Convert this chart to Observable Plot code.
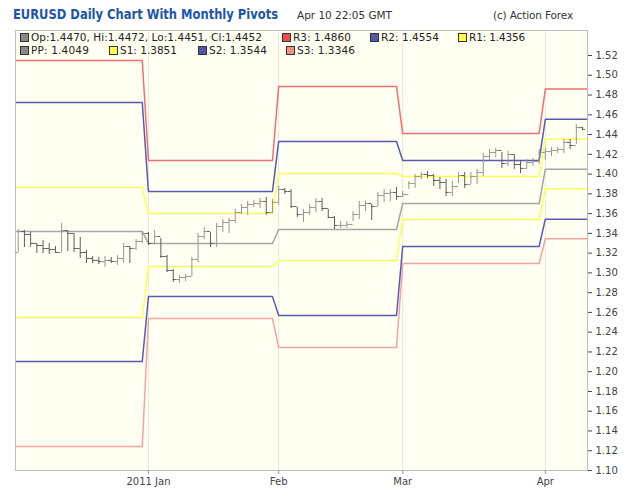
<!DOCTYPE html>
<html><head><meta charset="utf-8">
<script src="https://cdn.jsdelivr.net/npm/d3@7"></script>
<script src="https://cdn.jsdelivr.net/npm/@observablehq/plot@0.6"></script>
<style>
body{margin:0;background:#fff;}
#wrap{position:relative;width:625px;height:499px;font-family:"DejaVu Sans",Verdana,sans-serif;overflow:hidden;}
#wrap svg{position:absolute;left:0;top:0;}
.t{position:absolute;white-space:nowrap;line-height:1;}
.sq{position:absolute;width:7px;height:7px;border:1px solid #333;}
</style></head><body><div id="wrap"></div>
<script>
// ---- data ----
const monthNames = ["Dec","Jan","Feb","Mar","Apr"];
const monthBars = [21,21,20,23,7];
const R3 = [1.5150,1.4138,1.4887,1.4411,1.4860];
const R2 = [1.4725,1.3824,1.4330,1.4138,1.4554];
const R1 = [1.3864,1.3601,1.4006,1.3976,1.4356];
const PP = [1.3420,1.3298,1.3439,1.3702,1.4049];
const S1 = [1.2549,1.3065,1.3126,1.3540,1.3851];
const S2 = [1.2103,1.2761,1.2569,1.3267,1.3544];
const S3 = [1.1243,1.2538,1.2245,1.3095,1.3346];
const opens = [1.3206,1.3419,1.3389,1.3298,1.3277,1.3247,1.3237,1.3206,1.3429,1.3399,1.3247,1.3206,1.3146,1.3126,1.3115,1.3126,1.3115,1.3146,1.3267,1.3247,1.3318,
1.3399,1.3298,1.3368,1.3166,1.3024,1.2933,1.2953,1.2964,1.3136,1.3368,1.3419,1.3298,1.3470,1.3510,1.3530,1.3611,1.3662,1.3692,1.3702,1.3723,1.3611,
1.3713,1.3844,1.3824,1.3672,1.3591,1.3611,1.3662,1.3723,1.3652,1.3561,1.3480,1.3480,1.3490,1.3591,1.3682,1.3702,1.3672,1.3783,1.3804,1.3814,
1.3773,1.3794,1.3905,1.3976,1.3996,1.3986,1.3935,1.3915,1.3814,1.3874,1.3986,1.3895,1.3976,1.4016,1.4178,1.4219,1.4239,1.4107,1.4198,1.4097,1.4057,1.4117,1.4128,
1.4219,1.4229,1.4239,1.4249,1.4320,1.4289,1.4470];
const highs = [1.3439,1.3429,1.3409,1.3298,1.3328,1.3298,1.3267,1.3500,1.3429,1.3399,1.3358,1.3227,1.3166,1.3156,1.3166,1.3156,1.3176,1.3298,1.3267,1.3338,1.3419,
1.3409,1.3429,1.3348,1.3176,1.3034,1.2974,1.2984,1.3156,1.3399,1.3459,1.3409,1.3500,1.3540,1.3551,1.3642,1.3692,1.3723,1.3733,1.3753,1.3763,1.3743,
1.3874,1.3854,1.3844,1.3662,1.3642,1.3692,1.3753,1.3753,1.3642,1.3571,1.3520,1.3520,1.3621,1.3723,1.3723,1.3692,1.3814,1.3844,1.3844,1.3864,
1.3824,1.3925,1.3996,1.4016,1.4026,1.3996,1.3966,1.3945,1.3925,1.4016,1.4016,1.4016,1.4047,1.4209,1.4249,1.4259,1.4219,1.4229,1.4198,1.4128,1.4148,1.4158,1.4249,
1.4259,1.4269,1.4269,1.4350,1.4350,1.4502,1.4472];
const lows = [1.3206,1.3257,1.3257,1.3196,1.3196,1.3186,1.3196,1.3206,1.3217,1.3206,1.3146,1.3095,1.3095,1.3085,1.3055,1.3095,1.3075,1.3095,1.3095,1.3227,1.3298,
1.3277,1.3298,1.3146,1.3004,1.2903,1.2893,1.2913,1.2964,1.3105,1.3338,1.3257,1.3257,1.3409,1.3399,1.3500,1.3591,1.3581,1.3662,1.3652,1.3581,1.3601,
1.3682,1.3794,1.3652,1.3561,1.3510,1.3581,1.3611,1.3621,1.3551,1.3439,1.3449,1.3449,1.3520,1.3540,1.3621,1.3530,1.3672,1.3713,1.3723,1.3733,
1.3763,1.3844,1.3854,1.3945,1.3955,1.3874,1.3844,1.3773,1.3773,1.3905,1.3854,1.3895,1.3895,1.3976,1.4138,1.4168,1.4057,1.4077,1.4047,1.4006,1.4047,1.4077,1.4097,
1.4138,1.4178,1.4209,1.4209,1.4249,1.4300,1.4451];
const closes = [1.3419,1.3389,1.3298,1.3277,1.3247,1.3237,1.3206,1.3429,1.3399,1.3247,1.3206,1.3146,1.3126,1.3115,1.3126,1.3115,1.3146,1.3267,1.3247,1.3318,1.3399,
1.3298,1.3368,1.3166,1.3024,1.2933,1.2953,1.2964,1.3136,1.3368,1.3419,1.3298,1.3470,1.3510,1.3530,1.3611,1.3662,1.3692,1.3702,1.3723,1.3611,1.3713,
1.3844,1.3824,1.3672,1.3591,1.3611,1.3662,1.3723,1.3652,1.3561,1.3480,1.3480,1.3490,1.3591,1.3682,1.3702,1.3672,1.3783,1.3804,1.3814,1.3773,
1.3794,1.3905,1.3976,1.3996,1.3986,1.3935,1.3915,1.3814,1.3874,1.3986,1.3895,1.3976,1.4016,1.4178,1.4219,1.4239,1.4107,1.4198,1.4097,1.4057,1.4117,1.4128,1.4219,
1.4229,1.4239,1.4249,1.4320,1.4289,1.4472,1.4452];
const tickIdx = [21,42,62,85];
const tickLabels = ["2011 Jan","Feb","Mar","Apr"];
const yTicks = [1.10,1.12,1.14,1.16,1.18,1.20,1.22,1.24,1.26,1.28,1.30,1.32,1.34,1.36,1.38,1.40,1.42,1.44,1.46,1.48,1.50,1.52];
const legendRow1 = [["Op:1.4470, Hi:1.4472, Lo:1.4451, Cl:1.4452","#888888",20,231],["R3: 1.4860","#e85050",282,58],["R2: 1.4554","#5555aa",370,58],["R1: 1.4356","#ffff44",458,56]];
const legendRow2 = [["PP: 1.4049","#888888",20,58],["S1: 1.3851","#ffff44",109,57],["S2: 1.3544","#5555aa",198,58],["S3: 1.3346","#f49080",286,58]];

// ---- build ----
const monthOf = [];
monthBars.forEach((n,m)=>{for(let k=0;k<n;k++) monthOf.push(m);});
const bars = opens.map((o,i)=>({i, open:o, high:highs[i], low:lows[i], close:closes[i], up: closes[i]>=o}));
const xDomain = [-0.44, 91.8];
const levels = [
  {name:"S3", vals:S3, color:"#f4a2a2"},
  {name:"S2", vals:S2, color:"#5a5ab4"},
  {name:"S1", vals:S1, color:"#ffff5a"},
  {name:"PP", vals:PP, color:"#a6a6a6"},
  {name:"R1", vals:R1, color:"#ffff5a"},
  {name:"R2", vals:R2, color:"#5a5ab4"},
  {name:"R3", vals:R3, color:"#ee7070"}
];
const pivotMarks = levels.map(L=>{
  const pts = [{x:xDomain[0], y:L.vals[0]}];
  monthOf.forEach((m,i)=>pts.push({x:i, y:L.vals[m]}));
  pts.push({x:xDomain[1], y:L.vals[4]});
  return Plot.line(pts,{x:"x",y:"y",stroke:L.color,strokeWidth:1.5});
});
const barColor = d => d.up ? "#969696" : "#5e5e5e";

const chart = Plot.plot({
  width:625, height:499,
  marginLeft:15, marginRight:38, marginTop:30, marginBottom:29,
  style:{background:"transparent", fontFamily:"DejaVu Sans, Verdana, sans-serif"},
  x:{domain:xDomain, axis:null},
  y:{domain:[1.10,1.5453], axis:null},
  marks:[
    Plot.frame({fill:"#fffff2", stroke:null}),
    Plot.ruleX(tickIdx,{stroke:"#e8e8dc"}),
    ...pivotMarks,
    Plot.ruleX(bars,{x:"i", y1:"low", y2:"high", stroke:barColor}),
    Plot.ruleY(bars,{x1:d=>d.i-0.5, x2:"i", y:"open", stroke:barColor}),
    Plot.ruleY(bars,{x1:"i", x2:d=>d.i+0.5, y:"close", stroke:barColor}),
    Plot.frame({stroke:"#bdbdbd"}),
    Plot.axisY(yTicks,{anchor:"right", tickSize:4, tickPadding:4, tickFormat:d=>d.toFixed(2), fontSize:10, color:"#444", stroke:"#444"}),
    Plot.axisX(tickIdx,{anchor:"bottom", tickSize:4, tickPadding:3, tickFormat:d=>tickLabels[tickIdx.indexOf(d)], fontSize:10, color:"#444", stroke:"#999"})
  ]
});
const wrap = document.getElementById("wrap");
wrap.appendChild(chart);

function addText(txt, x, y, css){
  const d = document.createElement("div");
  d.className = "t"; d.textContent = txt;
  d.style.left = x+"px"; d.style.top = y+"px";
  Object.assign(d.style, css||{});
  wrap.appendChild(d);
  return d;
}
function fitWidth(el, target){
  const w = el.getBoundingClientRect().width;
  const n = el.textContent.length;
  el.style.letterSpacing = ((target - w)/n).toFixed(3) + "px";
}
const title = addText("EURUSD Daily Chart With Monthly Pivots", 13, 7, {fontSize:"14px", fontWeight:"bold", color:"#1d55a8", fontFamily:"'DejaVu Sans Condensed','DejaVu Sans',sans-serif"});
const tw = title.getBoundingClientRect().width;
if (tw > 268) { title.style.transformOrigin = "0 0"; title.style.transform = `scaleX(${265/tw})`; }
fitWidth(addText("Apr 10 22:05 GMT", 297, 10, {fontSize:"10.5px", color:"#333"}), 95);
fitWidth(addText("(c) Action Forex", 493, 10, {fontSize:"10.5px", color:"#333"}), 80);
function addLegend(row, y){
  row.forEach(([txt,col,x,target])=>{
    const s = document.createElement("div");
    s.className = "sq"; s.style.left = x+"px"; s.style.top = (y+1)+"px"; s.style.background = col;
    wrap.appendChild(s);
    const el = addText(txt, x+11, y, {fontSize:"10.5px", color:"#222"});
    fitWidth(el, target);
  });
}
addLegend(legendRow1, 32);
addLegend(legendRow2, 45);
</script></body></html>
